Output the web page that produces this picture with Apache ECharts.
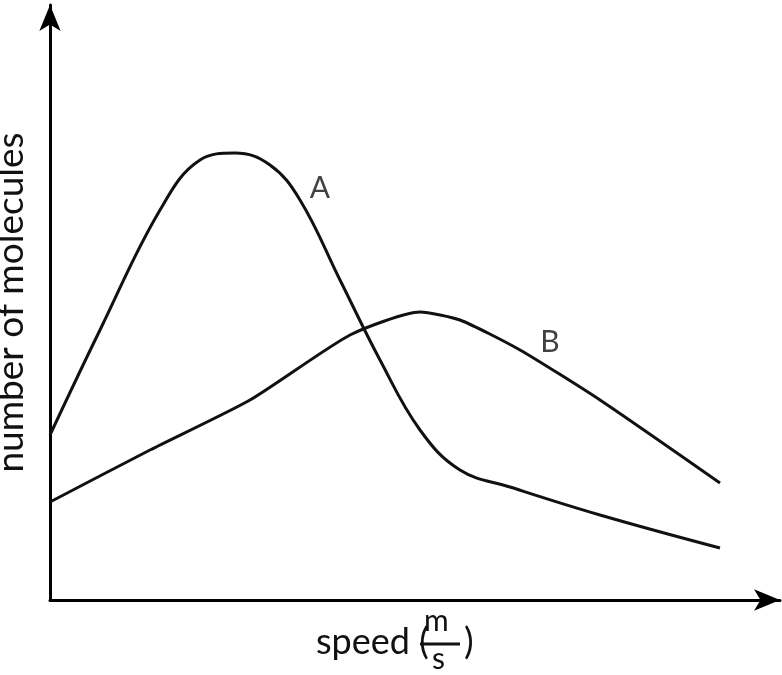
<!DOCTYPE html>
<html><head><meta charset="utf-8">
<script src="https://cdn.jsdelivr.net/npm/echarts@6/dist/echarts.min.js"></script>
<style>html,body{margin:0;background:#fff}#c{width:782px;height:675px}</style>
</head><body><div id="c"></div>
<script>
const curveA = [[0,165],[50,270],[110,390],[150,440],[185,447],[220,435],[250,400],[290,320],[330,240],[370,170],[410,130],[460,113],[550,85],[670,52]];
const curveB = [[0,98],[100,150],[200,200],[300,265],[370,288],[410,280],[470,250],[550,200],[670,117]];
const curveLabels = [{name:'A', value:[270,412]},{name:'B', value:[500,258]}];
const yTitle = 'number of molecules';
const chart = echarts.init(document.getElementById('c'));
const font = 'Lato';
const ink = '#111';
chart.setOption({
  animation:false,
  grid:{left:50,right:2,top:5,bottom:75,containLabel:false,outerBoundsMode:'none'},
  xAxis:{type:'value',min:0,max:730,axisLine:{lineStyle:{color:'#000',width:3},symbol:['none','arrow'],symbolSize:[16,26]},
    axisTick:{show:false},axisLabel:{show:false},splitLine:{show:false}},
  yAxis:{type:'value',min:0,max:595,name:yTitle,nameLocation:'middle',nameGap:20,
    nameTextStyle:{fontSize:37,color:ink,fontFamily:font},
    axisLine:{show:true,lineStyle:{color:'#000',width:3},symbol:['none','arrow'],symbolSize:[16,26]},
    axisTick:{show:false},axisLabel:{show:false},splitLine:{show:false}},
  graphic:[
    {type:'text',left:316,top:624,style:{text:'speed (',fontSize:36,fontFamily:font,fill:ink}},
    {type:'text',left:424,top:606,style:{text:'m',fontSize:30,fontFamily:font,fill:ink}},
    {type:'line',shape:{x1:420,y1:644,x2:460,y2:644},style:{stroke:ink,lineWidth:3}},
    {type:'text',left:432,top:644,style:{text:'s',fontSize:30,fontFamily:font,fill:ink}},
    {type:'text',left:464,top:624,style:{text:')',fontSize:36,fontFamily:font,fill:ink}}
  ],
  series:[
    {type:'line',data:curveA,smooth:0.4,symbol:'none',lineStyle:{color:ink,width:3}},
    {type:'line',data:curveB,smooth:0.2,symbol:'none',lineStyle:{color:ink,width:3}},
    {type:'scatter',data:curveLabels,symbolSize:0,
      label:{show:true,formatter:p=>p.name,fontSize:30,fontFamily:font,color:ink,position:'inside'}}
  ]
});
</script></body></html>
